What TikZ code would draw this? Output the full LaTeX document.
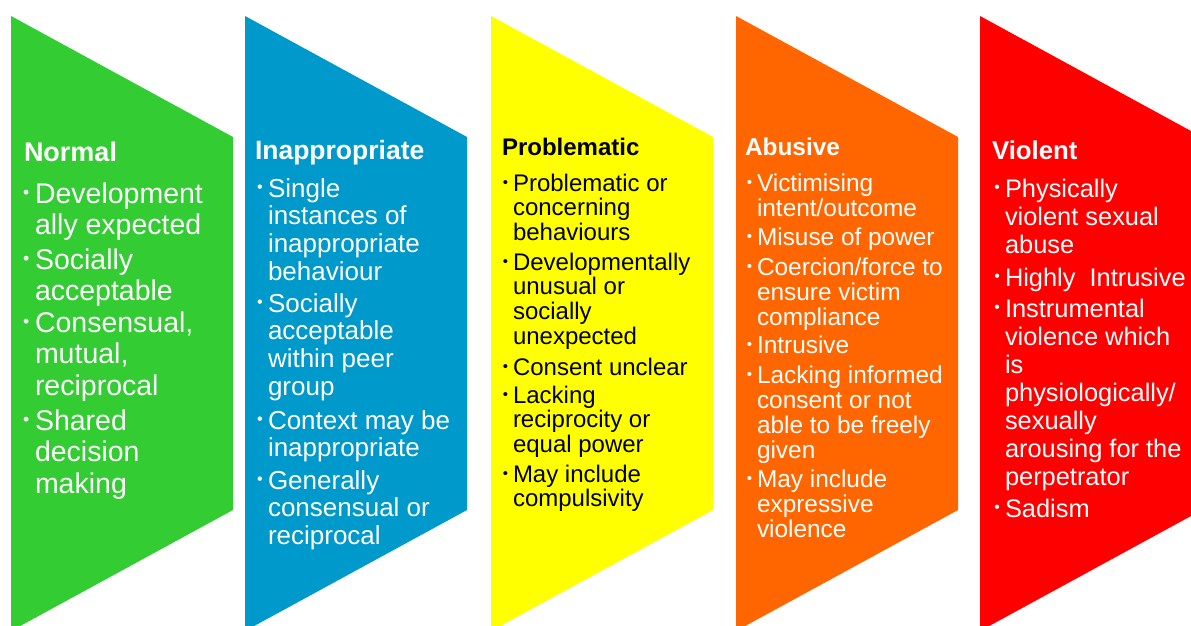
\documentclass[tikz,border=0pt]{standalone}
\usepackage{fontspec}
\setmainfont{Liberation Sans}
\usepackage{graphicx}
\definecolor{cgreen}{HTML}{33CC33}
\definecolor{cblue}{HTML}{0099CC}
\definecolor{cyellow}{HTML}{FFFF00}
\definecolor{corange}{HTML}{FF6600}
\definecolor{cred}{HTML}{FF0000}
\newcommand\bul{\llap{\raisebox{0.16em}{\scalebox{0.62}{•}}\hspace{0.2em}}}
\newcommand\lines[1]{\begin{tabular}[t]{@{}l@{}}#1\end{tabular}}
\begin{document}
\begin{tikzpicture}[x=1pt,y=-1pt,
  txt/.style={anchor=base west, inner sep=0pt, outer sep=0pt},
  gt/.style={txt, text=white, font=\bfseries\fontsize{27}{31.5}\selectfont},
  gb/.style={txt, text=white, font=\fontsize{28.5}{31.5}\selectfont},
  bt/.style={txt, text=white, font=\bfseries\fontsize{26.5}{27.8}\selectfont},
  bb/.style={txt, text=white, font=\fontsize{26}{27.8}\selectfont},
  yt/.style={txt, text=black, font=\bfseries\fontsize{24}{24.8}\selectfont},
  yb/.style={txt, text=black, font=\fontsize{24}{24.8}\selectfont},
  ot/.style={txt, text=white, font=\bfseries\fontsize{24.4}{25}\selectfont},
  ob/.style={txt, text=white, font=\fontsize{24.4}{25}\selectfont},
  rt/.style={txt, text=white, font=\bfseries\fontsize{25.8}{28}\selectfont},
  rb/.style={txt, text=white, font=\fontsize{25.4}{28}\selectfont}]
\useasboundingbox (0,0) rectangle (1191,626);
\clip (0,0) rectangle (1191,626);
\fill[white] (0,0) rectangle (1191,626);
\foreach \L/\c in {11/cgreen,245/cblue,491/cyellow,736/corange,980/cred}
  \fill[\c] (\L,16) -- (\L+222,137) -- (\L+222,510) -- (\L,631) -- cycle;
% Normal
\node[gt] (gt) at (24,161) {Normal};
\node[gb] (g1) at (35,203) {\lines{\bul Development\\ally expected}};
\node[gb] (g2) at (35,269) {\lines{\bul Socially\\acceptable}};
\node[gb] (g3) at (35,332) {\lines{\bul Consensual,\\mutual,\\reciprocal}};
\node[gb] (g4) at (35,430) {\lines{\bul Shared\\decision\\making}};
% Inappropriate
\node[bt] (bt) at (255,159) {Inappropriate};
\node[bb] (b1) at (268,197) {\lines{\bul Single\\instances of\\inappropriate\\behaviour}};
\node[bb] (b2) at (268,312) {\lines{\bul Socially\\acceptable\\within peer\\group}};
\node[bb] (b3) at (268,429) {\lines{\bul Context may be\\inappropriate}};
\node[bb] (b4) at (268,489) {\lines{\bul Generally\\consensual or\\reciprocal}};
% Problematic
\node[yt] (yt) at (502,155) {Problematic};
\node[yb] (y1) at (513,191) {\lines{\bul Problematic or\\concerning\\behaviours}};
\node[yb] (y2) at (513,270) {\lines{\bul Developmentally\\unusual or\\socially\\unexpected}};
\node[yb] (y3) at (513,375) {\lines{\bul Consent unclear}};
\node[yb] (y4) at (513,403) {\lines{\bul Lacking\\reciprocity or\\equal power}};
\node[yb] (y5) at (513,482) {\lines{\bul May include\\compulsivity}};
% Abusive
\node[ot] (ot) at (745,155) {Abusive};
\node[ob] (o1) at (757,191) {\lines{\bul Victimising\\intent/outcome}};
\node[ob] (o2) at (757,245) {\lines{\bul Misuse of power}};
\node[ob] (o3) at (757,275) {\lines{\bul Coercion/force to\\ensure victim\\compliance}};
\node[ob] (o4) at (757,353) {\lines{\bul Intrusive}};
\node[ob] (o5) at (757,383) {\lines{\bul Lacking informed\\consent or not\\able to be freely\\given}};
\node[ob] (o6) at (757,487) {\lines{\bul May include\\expressive\\violence}};
% Violent
\node[rt] (rt) at (992,159) {Violent};
\node[rb] (r1) at (1005,197) {\lines{\bul Physically\\violent sexual\\abuse}};
\node[rb] (r2) at (1005,286) {\lines{\bul Highly\ \ Intrusive}};
\node[rb] (r3) at (1005,317) {\lines{\bul Instrumental\\violence which\\is\\physiologically/\\sexually\\arousing for the\\perpetrator}};
\node[rb] (r4) at (1005,517) {\lines{\bul Sadism}};
\end{tikzpicture}
\end{document}
